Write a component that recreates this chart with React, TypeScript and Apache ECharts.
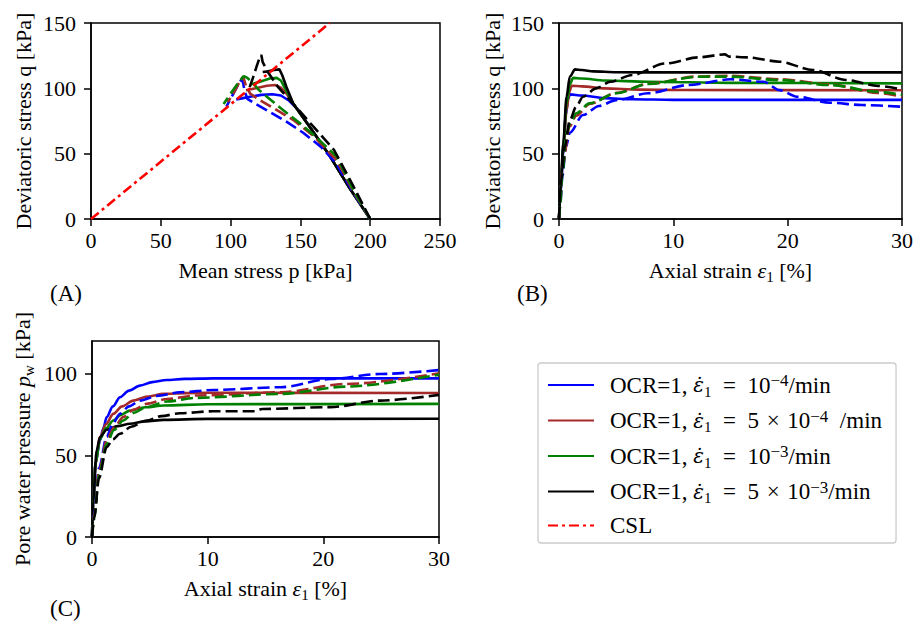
import React, { useEffect, useRef } from 'react';
import * as echarts from 'echarts';

const FONT = "Liberation Serif, Times New Roman, serif";
const MATHFONT = "DejaVu Serif, Liberation Serif, serif";

// ---------- legend / colours ----------
const legendNames = [
  'OCR=1, ε̇1 = 10^-4/min',
  'OCR=1, ε̇1 = 5×10^-4 /min',
  'OCR=1, ε̇1 = 10^-3/min',
  'OCR=1, ε̇1 = 5×10^-3/min',
  'CSL',
];
const legendRich = [
  '{r|OCR=1, }{i|ε\u0307}{s|1}{r|\u2002=\u200210}{p|−4}{r|/min}',
  '{r|OCR=1, }{i|ε\u0307}{s|1}{r|\u2002=\u20025\u2004×\u200410}{p|−4}{r|\u2002/min}',
  '{r|OCR=1, }{i|ε\u0307}{s|1}{r|\u2002=\u200210}{p|−3}{r|/min}',
  '{r|OCR=1, }{i|ε\u0307}{s|1}{r|\u2002=\u20025\u2004×\u200410}{p|−3}{r|/min}',
  '{r|CSL}',
];
const colors = ['#0000ff', '#a52a2a', '#008000', '#000000'];
const dashedNames = ['blue dashed', 'brown dashed', 'green dashed', 'black dashed'];

// ---------- panel A: p-q ----------
const cslLine = [[0, 0], [171, 150]];
const pqSolidBlue = [[200, 0], [185, 24], [170, 50], [157, 70], [148, 84], [142, 90.5], [136, 94.5], [130, 95.5], [122, 95], [114, 93.5], [108, 92.3], [104, 91.5]];
const pqSolidBrown = [[200, 0], [185, 24], [170, 50], [157, 70], [145, 88], [140, 96], [136, 100.5], [132, 102.5], [126, 102], [118, 100], [111, 98.5]];
const pqSolidGreen = [[200, 0], [185, 24], [170, 50], [157, 70], [145, 88], [139, 100], [136, 106], [133, 108], [128, 107.5], [121, 105], [114, 103]];
const pqSolidBlack = [[200, 0], [185, 24], [170, 50], [157, 70], [145, 88], [140, 101], [137, 110], [135, 114.5], [131, 114], [127, 113], [123, 112.5]];
const pqDashBlue = [[200, 0], [188, 20], [176, 42], [165, 55], [152, 66], [140, 74.5], [128, 82], [118, 88], [112, 92], [110, 98], [109, 104], [108, 107], [106, 104], [102, 96], [97, 86]];
const pqDashBrown = [[200, 0], [188, 21], [176, 45], [160, 63], [145, 75.7], [132, 84], [121, 91], [114, 96], [111, 102], [109, 109], [107, 106], [103, 98], [98, 89.5]];
const pqDashGreen = [[200, 0], [188, 22], [176, 47.7], [162, 62], [150, 73], [138, 83], [126, 93.6], [120, 99], [116, 104], [112, 108], [109.5, 109.4], [106, 105], [100, 96], [95, 88]];
const pqDashBlack = [[200, 0], [188, 25], [174, 53], [159, 71], [145, 88], [134, 101], [127, 112], [123, 120], [122, 125.5], [121, 124], [119, 118], [116, 108], [113, 99]];

// ---------- panel B: strain - q ----------
const eqSolidBlue = [[0, 0], [0.15, 22], [0.37, 50], [0.6, 80], [0.8, 92], [0.95, 95.4], [2, 94.5], [4, 92.5], [6.4, 91.6], [10, 91.2], [30, 91.2]];
const eqSolidBrown = [[0, 0], [0.15, 23], [0.37, 52], [0.66, 83], [0.9, 97], [1.1, 102], [2, 101.5], [4, 100], [7, 99], [10.7, 98.7], [30, 98.5]];
const eqSolidGreen = [[0, 0], [0.15, 24], [0.37, 55], [0.66, 88], [0.95, 103], [1.24, 108], [2, 107.5], [4, 106], [7.8, 105], [15, 104.2], [30, 103.8]];
const eqSolidBlack = [[0, 0], [0.15, 25], [0.37, 58], [0.66, 93.6], [0.95, 109], [1.4, 114.5], [2, 114], [3, 113], [5, 112.3], [10, 112.2], [30, 112.2]];
const eqDashBlue = [[0, 0], [0.1, 10], [0.3, 33], [0.6, 55], [0.95, 66], [2.1, 79.6], [3.5, 86.5], [5, 91], [7.8, 96.2], [11.3, 102.5], [15, 106.9], [17.9, 105], [19.3, 98.6], [20.8, 93.6], [23.7, 89], [26.5, 87.2], [30, 85.9]];
const eqDashBrown = [[0, 0], [0.1, 12], [0.3, 40], [0.92, 70.6], [1.5, 79], [2.67, 88], [5, 96.5], [7.8, 103.5], [12, 109], [15, 109.6], [19.3, 107], [23.7, 103], [27.9, 96.5], [30, 93.6]];
const eqDashGreen = [[0, 0], [0.1, 10], [0.3, 35], [0.66, 65.6], [1, 74], [1.52, 80.9], [2.67, 88.5], [5, 96.2], [7.8, 103.3], [12.2, 108.9], [15, 109], [19.3, 106.3], [23.7, 102.5], [27.9, 97.4], [30, 94.9]];
const eqDashBlack = [[0, 0], [0.2, 30], [0.5, 55], [0.95, 75.7], [1.5, 86], [2.1, 93.6], [3.25, 100], [4.5, 105], [6.4, 110.2], [9.3, 119], [12.2, 123.7], [14.5, 126], [14.9, 124.3], [16.5, 123.7], [19.3, 120.4], [22.2, 114], [25.1, 106.4], [27.9, 101.8], [30, 99.2]];

// ---------- panel C: strain - pore pressure ----------
const ewSolidBlue = [[0, 0], [0.1, 20], [0.3, 45], [0.69, 59], [1.0, 67], [1.27, 73.4], [1.8, 80], [2.42, 85.6], [3.2, 89.6], [4.15, 92.7], [5.2, 94.8], [6.45, 96.1], [8, 96.8], [10.5, 97.1], [30, 97.1]];
const ewSolidBrown = [[0, 0], [0.1, 20], [0.3, 45], [0.69, 61], [1.2, 69], [1.84, 75.4], [2.6, 80], [3.57, 83.5], [4.8, 86], [6.2, 87.6], [8, 88.1], [10, 88.3], [30, 88.2]];
const ewSolidGreen = [[0, 0], [0.1, 20], [0.3, 45], [0.69, 60], [1.2, 66.5], [1.84, 71.3], [2.5, 74.8], [3.28, 77.4], [4.6, 79.4], [6.2, 80.5], [10, 81.3], [30, 81.5]];
const ewSolidBlack = [[0, 0], [0.1, 22], [0.4, 53], [0.69, 61.2], [1.27, 65.7], [2.2, 67.9], [3.28, 69.3], [4.6, 70.8], [6.2, 71.7], [10, 72.3], [30, 72.4]];
const ewDashBlue = [[0, 0], [0.2, 15], [0.6, 42], [1.27, 61.2], [1.8, 69.5], [2.42, 75.4], [3.2, 80], [4.15, 83.5], [5.6, 86.4], [7.6, 88.6], [10.5, 90], [16.3, 91.7], [20.6, 96.7], [24.9, 99.8], [30, 102.2]];
const ewDashBrown = [[0, 0], [0.2, 14], [0.6, 40], [1.27, 59.1], [1.9, 67], [2.7, 73.4], [3.6, 78], [4.7, 81.5], [6.5, 84.5], [9, 86.6], [16.3, 88.6], [22, 93.7], [30, 100.2]];
const ewDashGreen = [[0, 0], [0.2, 12], [0.6, 38], [1.27, 57], [1.9, 65.5], [2.7, 71.3], [3.6, 76], [4.7, 79.5], [6.5, 83], [9, 85.2], [16.3, 87.6], [22, 92.1], [30, 99.4]];
const ewDashBlack = [[0, 0], [0.2, 12], [0.6, 36], [1.27, 55.1], [1.8, 59.8], [2.42, 63.2], [3.4, 67.5], [4.7, 71.3], [6, 74], [7.6, 75.8], [10.5, 77], [14.1, 77], [14.7, 78.4], [20.6, 79.5], [24.9, 83.5], [30, 87]];

// ---------- axis ticks ----------
const pTicks = [0, 50, 100, 150, 200, 250];
const qTicks = [0, 50, 100, 150];
const strainTicks = [0, 10, 20, 30];
const pwTicks = [0, 50, 100];

const panelSolid = [
  [pqSolidBlue, pqSolidBrown, pqSolidGreen, pqSolidBlack],
  [eqSolidBlue, eqSolidBrown, eqSolidGreen, eqSolidBlack],
  [ewSolidBlue, ewSolidBrown, ewSolidGreen, ewSolidBlack],
];
const panelDashed = [
  [pqDashBlue, pqDashBrown, pqDashGreen, pqDashBlack],
  [eqDashBlue, eqDashBrown, eqDashGreen, eqDashBlack],
  [ewDashBlue, ewDashBrown, ewDashGreen, ewDashBlack],
];

const richStyles = {
  r: { fontFamily: FONT, fontSize: 23, color: '#000', lineHeight: 26 },
  i: { fontFamily: MATHFONT, fontSize: 20, color: '#000', fontStyle: 'italic', lineHeight: 26 },
  s: { fontFamily: FONT, fontSize: 15, color: '#000', lineHeight: 26, verticalAlign: 'top', padding: [12, 0, 0, 0] },
  p: { fontFamily: FONT, fontSize: 17, color: '#000', verticalAlign: 'top', lineHeight: 16 },
};
const nameRich = {
  r: { fontFamily: FONT, fontSize: 22, color: '#000', lineHeight: 26 },
  i: { fontFamily: FONT, fontSize: 22, color: '#000', fontStyle: 'italic', lineHeight: 26 },
  s: { fontFamily: FONT, fontSize: 15, color: '#000', lineHeight: 26, verticalAlign: 'top', padding: [12, 0, 0, 0] },
};

function makeAxis(gridIndex: number, min: number, max: number, interval: number, ticks: number[], name: string, nameGap: number, isY: boolean) {
  return {
    type: 'value',
    gridIndex,
    min,
    max,
    interval,
    name,
    nameLocation: 'middle',
    nameGap,
    nameTextStyle: { fontFamily: FONT, fontSize: 22, color: '#000', rich: nameRich },
    axisLine: { show: true, onZero: false, lineStyle: { color: '#000', width: 1.5 } },
    axisTick: { show: true, inside: false, length: 7, lineStyle: { color: '#000', width: 1.5 }, customValues: ticks },
    axisLabel: {
      show: true,
      margin: isY ? 15 : 10,
      fontFamily: FONT,
      fontSize: 22,
      color: '#000',
      customValues: ticks,
      formatter: (v: number) => `{t|${v}}`,
      rich: { t: { fontFamily: FONT, fontSize: 22, color: '#000' } },
    },
    splitLine: { show: false },
  };
}

export default function App() {
  const ref = useRef<HTMLDivElement>(null);
  useEffect(() => {
    if (!ref.current) return;
    const chart = echarts.init(ref.current, undefined, { renderer: 'svg' });
    const series: any[] = [];
    for (let pnl = 0; pnl < 3; pnl++) {
      const smooth = pnl === 0 ? false : 0.3;
      for (let k = 0; k < 4; k++) {
        series.push({
          type: 'line',
          name: legendNames[k],
          xAxisIndex: pnl,
          yAxisIndex: pnl,
          data: panelSolid[pnl][k],
          symbol: 'none',
          smooth,
          smoothMonotone: 'x',
          lineStyle: { color: colors[k], width: 2.6 },
          itemStyle: { color: colors[k] },
          z: 2,
        });
      }
      for (let k = 0; k < 4; k++) {
        series.push({
          type: 'line',
          name: dashedNames[k],
          xAxisIndex: pnl,
          yAxisIndex: pnl,
          data: panelDashed[pnl][k],
          symbol: 'none',
          smooth,
          smoothMonotone: 'x',
          lineStyle: { color: colors[k], width: 2.6, type: [12, 5] },
          itemStyle: { color: colors[k] },
          z: 3,
        });
      }
    }
    series.push({
      type: 'line',
      name: 'CSL',
      xAxisIndex: 0,
      yAxisIndex: 0,
      data: cslLine,
      symbol: 'none',
      lineStyle: { color: '#ff0000', width: 2.6, type: [10, 4, 3, 4] },
      itemStyle: { color: '#ff0000' },
      z: 4,
    });

    const gridBase = { show: true, borderColor: '#000', borderWidth: 1.5, backgroundColor: 'transparent', containLabel: false };

    chart.setOption({
      animation: false,
      textStyle: { fontFamily: FONT, color: '#000' },
      grid: [
        { ...gridBase, left: 91, top: 23, width: 349, height: 196 },
        { ...gridBase, left: 559, top: 23, width: 348, height: 196 },
        { ...gridBase, left: 92, top: 341, width: 347, height: 196 },
      ],
      xAxis: [
        makeAxis(0, 0, 250, 50, pTicks, 'Mean stress p [kPa]', 40, false),
        makeAxis(1, 0, 30, 10, strainTicks, '{r|Axial strain }{i|ε}{s|1}{r| [%]}', 38, false),
        makeAxis(2, 0, 30, 10, strainTicks, '{r|Axial strain }{i|ε}{s|1}{r| [%]}', 38, false),
      ],
      yAxis: [
        makeAxis(0, 0, 150, 50, qTicks, 'Deviatoric stress q [kPa]', 57, true),
        makeAxis(1, 0, 150, 50, qTicks, 'Deviatoric stress q [kPa]', 56, true),
        makeAxis(2, 0, 120, 50, pwTicks, '{r|Pore water pressure }{i|p}{s|w}{r| [kPa]}', 57, true),
      ],
      legend: {
        data: legendNames,
        orient: 'vertical',
        left: 538,
        top: 363,
        itemWidth: 46,
        itemHeight: 14,
        itemGap: 8.5,
        padding: [9, 14, 6, 9],
        borderColor: '#cccccc',
        borderWidth: 1.3,
        borderRadius: 3,
        backgroundColor: '#ffffff',
        selectedMode: false,
        itemStyle: { color: 'rgba(0,0,0,0)', borderColor: 'rgba(0,0,0,0)', borderWidth: 0, opacity: 0 },
        formatter: (name: string) => legendRich[legendNames.indexOf(name)],
        textStyle: { fontFamily: FONT, fontSize: 23, color: '#000', padding: [0, 0, 0, 11], rich: richStyles },
      },
      graphic: [
        { type: 'text', x: 50, y: 293, style: { text: '(A)', fontFamily: FONT, fontSize: 23, fill: '#000', verticalAlign: 'middle' } },
        { type: 'text', x: 517, y: 293, style: { text: '(B)', fontFamily: FONT, fontSize: 23, fill: '#000', verticalAlign: 'middle' } },
        { type: 'text', x: 50, y: 608, style: { text: '(C)', fontFamily: FONT, fontSize: 23, fill: '#000', verticalAlign: 'middle' } },
      ],
      series,
    });
    return () => chart.dispose();
  }, []);
  return <div ref={ref} style={{ position: 'fixed', left: 0, top: 0, width: 916, height: 629, background: '#fff' }} />;
}
